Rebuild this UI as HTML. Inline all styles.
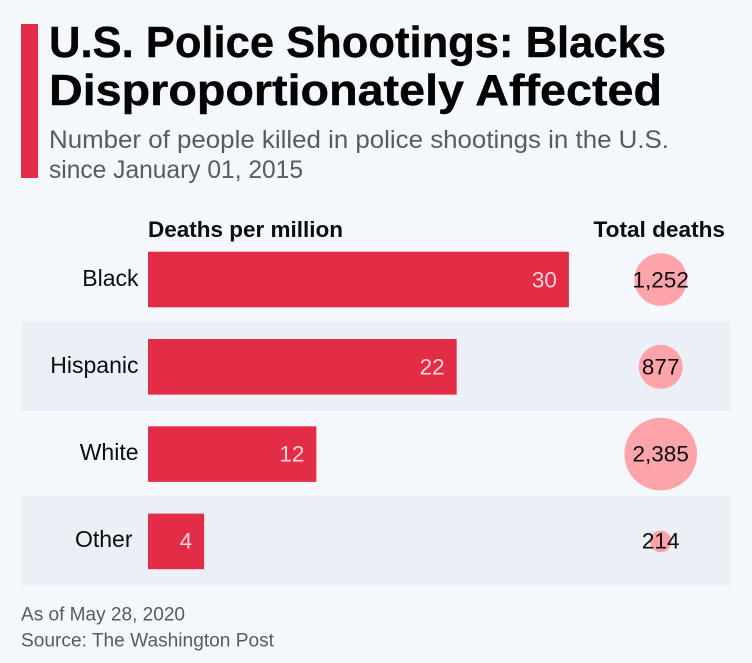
<!DOCTYPE html>
<html lang="en">
<head>
<meta charset="utf-8">
<title>U.S. Police Shootings: Blacks Disproportionately Affected</title>
<style>
html,body{margin:0;padding:0;background:#f4f7fb;}
body{width:752px;height:663px;overflow:hidden;}
svg{display:block;font-family:"Liberation Sans",sans-serif;}
</style>
</head>
<body>
<svg id="chart" width="752" height="663" viewBox="0 0 752 663" xmlns="http://www.w3.org/2000/svg">
  <rect x="0" y="0" width="752" height="663" fill="#f4f7fb"/>
  <rect x="21" y="24" width="17" height="154" fill="#e32d47"/>
  <text x="49" y="57" font-size="44" font-weight="700" fill="#030505" stroke="#030505" stroke-width="0.4" textLength="617" lengthAdjust="spacingAndGlyphs">U.S. Police Shootings: Blacks</text>
  <text x="49" y="105" font-size="44" font-weight="700" fill="#030505" stroke="#030505" stroke-width="0.4" textLength="613" lengthAdjust="spacingAndGlyphs">Disproportionately Affected</text>
  <text x="49" y="148" font-size="25" fill="#555c63" textLength="620" lengthAdjust="spacingAndGlyphs">Number of people killed in police shootings in the U.S.</text>
  <text x="49" y="178" font-size="25" fill="#555c63" textLength="254" lengthAdjust="spacingAndGlyphs">since January 01, 2015</text>
  <text x="148" y="237" font-size="22" font-weight="700" fill="#0b0e10" textLength="195" lengthAdjust="spacingAndGlyphs">Deaths per million</text>
  <text x="593.5" y="237" font-size="22" font-weight="700" fill="#0b0e10" textLength="131.5" lengthAdjust="spacingAndGlyphs">Total deaths</text>
  <g id="rows"></g>
  <text x="21" y="620.5" font-size="19" fill="#555c63" textLength="164" lengthAdjust="spacingAndGlyphs">As of May 28, 2020</text>
  <text x="21" y="646.5" font-size="19" fill="#555c63" textLength="253" lengthAdjust="spacingAndGlyphs">Source: The Washington Post</text>
</svg>
<script>
const categories = ['Black', 'Hispanic', 'White', 'Other'];
const deathsPerMillion = [30, 22, 12, 4];
const totalDeaths = [1252, 877, 2385, 214];

const NS = 'http://www.w3.org/2000/svg';
const rows = document.getElementById('rows');
const maxTotal = Math.max(...totalDeaths);
const xScale = function (v) { return v * 14.03; };
const rScale = function (v) { return Math.sqrt(v / maxTotal) * 36.3; };
const rowCenter = function (i) { return 279.5 + i * 87.3; };
const textBase = function (i) { return 287 + i * 87; };
const fmt = function (v) { return String(v).replace(/\B(?=(\d{3})+$)/g, ','); };

function make(tag, attrs, text) {
  const el = document.createElementNS(NS, tag);
  Object.keys(attrs).forEach(function (k) { el.setAttribute(k, attrs[k]); });
  if (text !== undefined) el.textContent = text;
  rows.appendChild(el);
  return el;
}

categories.forEach(function (cat, i) {
  const cy = rowCenter(i);
  const slug = cat.toLowerCase();

  if (i % 2 === 1) {
    const band = make('rect', { x: 21, y: cy - 45, width: 710, height: 89, fill: '#ebf0f7' });
    
    
  }

  const label = make('text', { x: i === 3 ? 132.5 : 138.5, y: textBase(i) - 1, 'font-size': 23, fill: '#0b0e10', 'text-anchor': 'end' }, cat);
  
  

  const w = xScale(deathsPerMillion[i]);
  const bar = make('rect', { x: 148, y: cy - 27.8, width: w, height: 55.6, fill: '#e32d47' });
  
  

  const val = make('text', { x: 148 + w - 12, y: textBase(i) + 0.5, 'font-size': 22.5, fill: '#fbd5da', 'text-anchor': 'end' }, String(deathsPerMillion[i]));
  
  

  const bubble = make('circle', { cx: 660.7, cy: cy, r: rScale(totalDeaths[i]), fill: '#fda4ab' });
  
  

  const total = make('text', { x: 660.7, y: textBase(i) + 0.5, 'font-size': 22.5, fill: '#0b0e10', 'text-anchor': 'middle' }, fmt(totalDeaths[i]));
  
  
});
</script>
</body>
</html>
